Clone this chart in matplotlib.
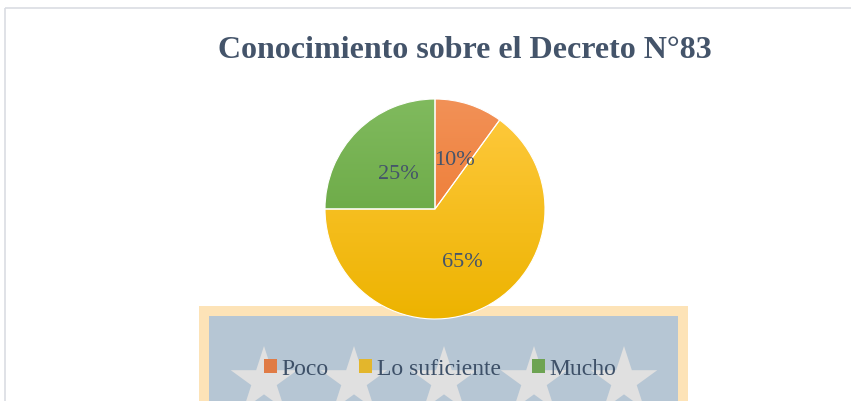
import numpy as np
import matplotlib

matplotlib.use("Agg")
import matplotlib.pyplot as plt
from matplotlib.patches import Rectangle, Polygon, Patch
from matplotlib.colors import LinearSegmentedColormap

# ---- data ----
labels = ["Poco", "Lo suficiente", "Mucho"]
shares = [10, 65, 25]
# gradient (top, bottom) per slice
tops = ["#F29157", "#FFCA40", "#80BA5E"]
bottoms = ["#EC6F1E", "#EDB300", "#5E9E35"]
solid = ["#E07B45", "#E3B62C", "#6DA352"]

INK = "#44546A"
W, H = 851, 402

fig = plt.figure(figsize=(W / 100, H / 100), dpi=100)

# background layer in pixel coordinates (y down)
bg = fig.add_axes([0, 0, 1, 1])
bg.set_xlim(0, W); bg.set_ylim(H, 0); bg.axis("off")
bg.add_patch(Rectangle((5, 9), W, H, fill=False, ec="#DADDE3", lw=1.2))
bg.add_patch(Rectangle((199, 307), 489, 120, fc="#FDE3B7", ec="none"))
bg.add_patch(Rectangle((209, 317), 469, 120, fc="#B6C6D4", ec="none"))


def star(cx, cy, R):
    ang = np.pi / 2 + np.arange(10) * np.pi / 5
    rad = np.where(np.arange(10) % 2 == 0, R, R * 0.382)
    return np.column_stack([cx + rad * np.cos(ang), cy - rad * np.sin(ang)])


for sx in (264, 354, 444, 534, 624):
    bg.add_patch(Polygon(star(sx, 382, 35), closed=True, fc="#E0E0E0", ec="none"))

fig.text(465 / W, 1 - 50 / H, "Conocimiento sobre el Decreto N°83", ha="center", va="center",
         family="Liberation Serif", fontweight="bold", fontsize=23, color=INK)

# pie, centre (435, 210), radius 110 px
cx, cy, r = 435, 210, 110
ax = fig.add_axes([(cx - r) / W, (H - cy - r) / H, 2 * r / W, 2 * r / H])
wedges, _, pct = ax.pie(shares, startangle=90, counterclock=False, radius=1,
                        autopct="%d%%", pctdistance=0.5,
                        wedgeprops=dict(fc="none", ec="white", lw=0.8),
                        textprops=dict(family="Liberation Serif", fontsize=16, color=INK))
ax.set_xlim(-1, 1); ax.set_ylim(-1, 1)
grad = np.linspace(0, 1, 256).reshape(-1, 1)
for w, t, b in zip(wedges, tops, bottoms):
    cmap = LinearSegmentedColormap.from_list("g", [t, b])
    im = ax.imshow(grad, cmap=cmap, extent=(-1, 1, -1, 1), origin="upper", aspect="auto", zorder=0.5)
    im.set_clip_path(w)
for w in wedges:
    w.set_zorder(1)
for t in pct:
    px, py = t.get_position()
    t.set_position((px + 0.02, py - 0.03))
    t.set_zorder(3)

handles = [Patch(fc=c, ec="none") for c in solid]
fig.legend(handles, labels, loc="center", bbox_to_anchor=(440 / W, 1 - 370 / H), ncol=3,
           frameon=False, prop=dict(family="Liberation Serif", size=17), labelcolor="#3D5068",
           handlelength=0.55, handleheight=0.55, handletextpad=0.2, columnspacing=1.3)

fig.savefig("out.png", dpi=100)
